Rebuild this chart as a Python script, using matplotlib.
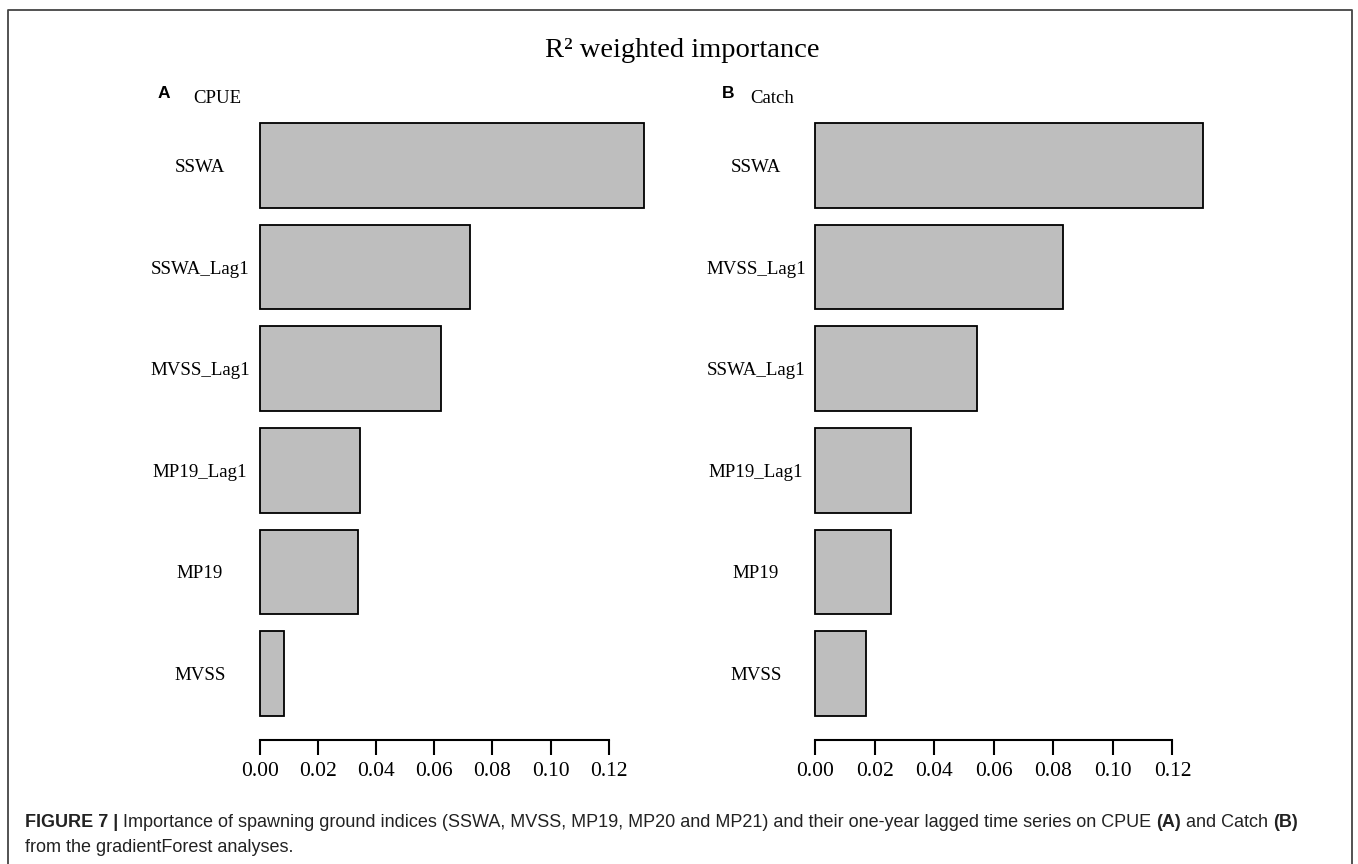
import matplotlib
matplotlib.use("Agg")
import matplotlib.pyplot as plt
from matplotlib.lines import Line2D

# ---- data (top-to-bottom order as displayed) ----
labels_a = ["SSWA", "SSWA_Lag1", "MVSS_Lag1", "MP19_Lag1", "MP19", "MVSS"]
values_a = [0.1320, 0.0722, 0.0622, 0.0344, 0.0337, 0.0083]
labels_b = ["SSWA", "MVSS_Lag1", "SSWA_Lag1", "MP19_Lag1", "MP19", "MVSS"]
values_b = [0.1304, 0.0831, 0.0543, 0.0322, 0.0255, 0.0171]
xticks = [0.00, 0.02, 0.04, 0.06, 0.08, 0.10, 0.12]
xtick_labels = ["0.00", "0.02", "0.04", "0.06", "0.08", "0.10", "0.12"]
title = "R\u00b2 weighted importance"
panel_a = ("A", "CPUE")
panel_b = ("B", "Catch")

W, H = 1358, 864
DPI = 100
fig = plt.figure(figsize=(W / DPI, H / DPI), dpi=DPI)
fig.patch.set_facecolor("white")

SERIF = ["Liberation Serif", "DejaVu Serif"]
SANS = ["Liberation Sans", "DejaVu Sans"]

def px_axes(left, right, top, bottom):
    return fig.add_axes([left / W, 1 - bottom / H, (right - left) / W, (bottom - top) / H])

def draw_panel(ax, labels, values, label_center_px, ax_left_px):
    n = len(values)
    ypos = [0.7 + 1.2 * i for i in range(n)]
    vals = list(reversed(values))
    labs = list(reversed(labels))
    ax.barh(ypos, vals, height=1.0, color="#bebebe", edgecolor="black", linewidth=1.3)
    vmax = max(values)
    ax.set_xlim(-0.04 * vmax, 1.04 * vmax)
    ax.set_ylim(-0.08, 0.2 + 1.2 * n + 0.08)
    for s in ["top", "right", "left"]:
        ax.spines[s].set_visible(False)
    ax.spines["bottom"].set_bounds(xticks[0], xticks[-1])
    ax.spines["bottom"].set_linewidth(1.5)
    ax.set_xticks(xticks)
    ax.set_xticklabels(xtick_labels, family=SERIF, fontsize=15.5)
    ax.tick_params(axis="x", direction="out", length=11, width=1.5, pad=5)
    ax.set_yticks(ypos)
    pad_pt = (ax_left_px - label_center_px) * 72 / DPI
    ax.set_yticklabels(labs, family=SERIF, fontsize=13.6, ha="center")
    ax.tick_params(axis="y", length=0, pad=pad_pt)
    ax.patch.set_alpha(0)

axA = px_axes(244.6, 659.0, 99.4, 739.6)
draw_panel(axA, labels_a, values_a, 200, 244.6)
axB = px_axes(799.4, 1219.0, 99.4, 739.6)
draw_panel(axB, labels_b, values_b, 756, 799.4)

def ftext(x, y, s, **kw):
    return fig.text(x / W, 1 - y / H, s, **kw)

# title
ftext(682, 57, title, family=SERIF, fontsize=20.5, ha="center", va="baseline")
# panel letters
ftext(158, 98, panel_a[0], family=SANS, fontsize=12.5, fontweight="bold", va="baseline")
ftext(193, 103, panel_a[1], family=SERIF, fontsize=13.5, va="baseline")
ftext(722, 98, panel_b[0], family=SANS, fontsize=12.5, fontweight="bold", va="baseline")
ftext(750, 103, panel_b[1], family=SERIF, fontsize=13.5, va="baseline")

# border
border = Line2D([8 / W, 8 / W, 1352 / W, 1352 / W], [0, 1 - 10 / H, 1 - 10 / H, 0],
                transform=fig.transFigure, color="#444444", linewidth=1.3)
fig.add_artist(border)

# caption with bold segments
renderer = fig.canvas.get_renderer()
cap_size = 13.0
line1 = [("FIGURE 7 | ", True),
         ("Importance of spawning ground indices (SSWA, MVSS, MP19, MP20 and MP21) and their one-year lagged time series on CPUE ", False),
         ("(A)", True), (" and Catch ", False), ("(B)", True)]
x = 25.0
for seg, bold in line1:
    t = ftext(x, 827, seg, family=SANS, fontsize=cap_size,
              fontweight="bold" if bold else "normal", va="baseline", color="#222222")
    bb = t.get_window_extent(renderer=renderer)
    x += bb.width
ftext(25, 852, "from the gradientForest analyses.", family=SANS, fontsize=cap_size,
      va="baseline", color="#222222")

fig.savefig("out.png", dpi=DPI, facecolor="white")
